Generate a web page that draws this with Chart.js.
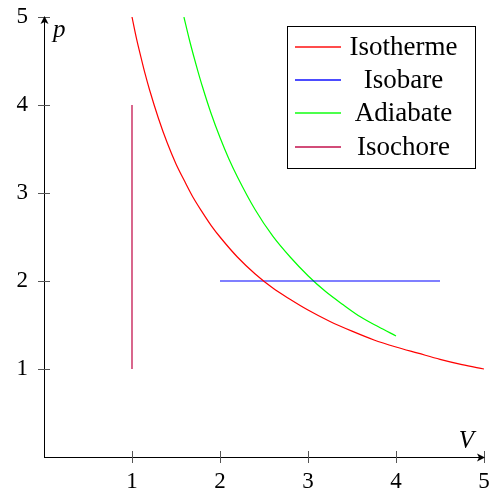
<!DOCTYPE html>
<html>
<head>
<meta charset="utf-8">
<script src="https://cdn.jsdelivr.net/npm/chart.js@4/dist/chart.umd.min.js"></script>
<style>
html,body{margin:0;padding:0;background:#fff;}
#wrap{width:493px;height:492px;position:relative;}
</style>
</head>
<body>
<div id="wrap"><canvas id="c" width="493" height="492"></canvas></div>
<script>
// ---- data ----
const seriesNames = ['Isotherme', 'Isobare', 'Adiabate', 'Isochore'];
const seriesColors = ['#ff0000', '#0000ff', '#00ff00', '#bf0040'];

const isothermeV = [1, 1.05, 1.1, 1.15, 1.2, 1.3, 1.4, 1.5, 1.6, 1.7, 1.8, 1.9, 2, 2.2, 2.4, 2.6, 2.8, 3, 3.25, 3.5, 3.75, 4, 4.25, 4.5, 4.75, 5];
const isothermeP = [5, 4.76, 4.55, 4.35, 4.17, 3.85, 3.57, 3.33, 3.13, 2.94, 2.78, 2.63, 2.5, 2.27, 2.08, 1.92, 1.79, 1.67, 1.54, 1.43, 1.33, 1.25, 1.18, 1.11, 1.05, 1];

const isobareV = [2, 4.5];
const isobareP = [2, 2];

const adiabateV = [1.59, 1.65, 1.7, 1.75, 1.8, 1.9, 2.0, 2.1, 2.2, 2.4, 2.6, 2.8, 3.0, 3.2, 3.4, 3.6, 3.8, 4.0];
const adiabateP = [5.0, 4.75, 4.56, 4.38, 4.21, 3.90, 3.63, 3.39, 3.18, 2.81, 2.51, 2.27, 2.06, 1.88, 1.73, 1.59, 1.48, 1.376];

const isochoreV = [1, 1];
const isochoreP = [1, 4];

const xTicks = [1, 2, 3, 4, 5];
const yTicks = [1, 2, 3, 4, 5];
const xAxisLabel = 'V';
const yAxisLabel = 'p';

function pts(xs, ys) { return xs.map((x, i) => ({x: x, y: ys[i]})); }
const seriesData = [pts(isothermeV, isothermeP), pts(isobareV, isobareP), pts(adiabateV, adiabateP), pts(isochoreV, isochoreP)];

const SERIF = '"Liberation Serif", "DejaVu Serif", serif';

const axesPlugin = {
  id: 'axesPlugin',
  beforeDatasetsDraw(chart) {
    const ctx = chart.ctx;
    const xs = chart.scales.x, ys = chart.scales.y;
    const x0 = xs.getPixelForValue(0), y0 = ys.getPixelForValue(0);
    const xEnd = xs.getPixelForValue(5), yEnd = ys.getPixelForValue(5);
    ctx.save();
    ctx.strokeStyle = '#000';
    ctx.fillStyle = '#000';
    ctx.lineWidth = 1;
    ctx.beginPath();
    ctx.moveTo(x0, y0 + 0.5); ctx.lineTo(xEnd - 2, y0 + 0.5);
    ctx.moveTo(x0 + 0.5, y0); ctx.lineTo(x0 + 0.5, yEnd + 2);
    ctx.stroke();
    ctx.strokeStyle = '#555';
    ctx.beginPath();
    xTicks.forEach(v => { const px = Math.round(xs.getPixelForValue(v)) + 0.5; ctx.moveTo(px, y0 - 6); ctx.lineTo(px, y0 + 6); });
    yTicks.forEach(v => { const py = Math.round(ys.getPixelForValue(v)) + 0.5; ctx.moveTo(x0 - 6, py); ctx.lineTo(x0 + 6, py); });
    ctx.stroke();
    ctx.fillStyle = '#000';
    ctx.beginPath();
    ctx.moveTo(xEnd + 1, y0 + 0.5);
    ctx.lineTo(xEnd - 7, y0 - 3.5);
    ctx.lineTo(xEnd - 5, y0 + 0.5);
    ctx.lineTo(xEnd - 7, y0 + 4.5);
    ctx.closePath(); ctx.fill();
    ctx.beginPath();
    ctx.moveTo(x0 + 0.5, yEnd - 1);
    ctx.lineTo(x0 - 3.5, yEnd + 7);
    ctx.lineTo(x0 + 0.5, yEnd + 5);
    ctx.lineTo(x0 + 4.5, yEnd + 7);
    ctx.closePath(); ctx.fill();
    ctx.font = 'italic 25px ' + SERIF;
    ctx.textBaseline = 'alphabetic';
    ctx.textAlign = 'left';
    ctx.fillText(yAxisLabel, x0 + 9, yEnd + 20);
    ctx.textAlign = 'right';
    ctx.fillText(xAxisLabel, xEnd - 10, y0 - 9);
    ctx.restore();
  },
  afterDraw(chart) {
    const ctx = chart.ctx;
    const bx = 287.5, by = 26.5, bw = 188, bh = 142;
    ctx.save();
    ctx.fillStyle = '#ffffff';
    ctx.fillRect(bx, by, bw, bh);
    ctx.strokeStyle = '#000000';
    ctx.lineWidth = 1;
    ctx.strokeRect(bx, by, bw, bh);
    ctx.font = '27px ' + SERIF;
    ctx.textAlign = 'center';
    ctx.textBaseline = 'middle';
    seriesNames.forEach((name, i) => {
      const yy = Math.round(47 + i * 33.2);
      ctx.fillStyle = seriesColors[i];
      ctx.fillRect(295, yy - 0.7, 46, 1.4);
      ctx.fillStyle = '#000000';
      ctx.fillText(name, 403.5, yy + 1);
    });
    ctx.restore();
  }
};

new Chart(document.getElementById('c'), {
  type: 'scatter',
  data: {
    datasets: seriesNames.map((n, i) => ({
      label: n,
      data: seriesData[i],
      showLine: true,
      borderColor: seriesColors[i],
      backgroundColor: seriesColors[i],
      borderWidth: 1.2,
      pointRadius: 0,
      pointHoverRadius: 0,
      cubicInterpolationMode: 'monotone',
      fill: false
    }))
  },
  options: {
    responsive: false,
    animation: false,
    events: [],
    layout: { padding: { top: 17, right: 9, left: 0, bottom: 0 } },
    plugins: { legend: { display: false }, tooltip: { enabled: false } },
    scales: {
      x: {
        type: 'linear', min: 0, max: 5,
        grid: { display: false, drawTicks: false },
        border: { display: false },
        afterBuildTicks(s) { s.ticks = xTicks.map(v => ({value: v})); },
        afterFit(s) { s.height = 35; s.paddingLeft = 0; s.paddingRight = 0; },
        ticks: { padding: 11, color: '#000', font: { family: SERIF, size: 23 }, maxRotation: 0 }
      },
      y: {
        type: 'linear', min: 0, max: 5,
        grid: { display: false, drawTicks: false },
        border: { display: false },
        afterBuildTicks(s) { s.ticks = yTicks.map(v => ({value: v})); },
        afterFit(s) { s.width = 44; s.paddingTop = 0; s.paddingBottom = 0; },
        ticks: { padding: 16, color: '#000', font: { family: SERIF, size: 23 } }
      }
    }
  },
  plugins: [axesPlugin]
});
</script>
</body>
</html>
